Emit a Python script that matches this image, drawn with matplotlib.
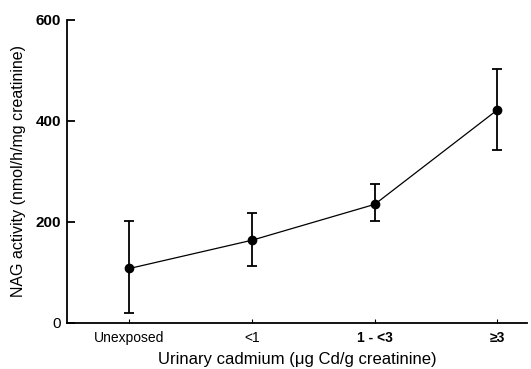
import matplotlib.pyplot as plt
import numpy as np

plt.rcParams['font.family'] = ['Liberation Sans', 'DejaVu Sans']

# data
groups = ["Unexposed", "<1", "1 - <3", "\u22653"]
nag_mean = [107, 163, 234, 421]
nag_low = [19, 111, 201, 342]
nag_high = [201, 216, 274, 503]

x = np.arange(len(groups))
mean = np.array(nag_mean)
yerr = [mean - np.array(nag_low), np.array(nag_high) - mean]

fig = plt.figure(figsize=(5.31, 3.69), dpi=100)
ax = fig.add_axes([0.126, 0.126, 0.866, 0.821])

ax.errorbar(x, mean, yerr=yerr, fmt='-o', color='black', lw=0.9,
            elinewidth=1.3, capsize=3.5, capthick=1.3, markersize=6)

ax.set_xlim(-0.51, 3.24)
ax.set_ylim(0, 600)
ax.set_yticks([0, 200, 400, 600])
ax.set_xticks(x)
ax.set_xticklabels(groups)
for i, lab in enumerate(ax.get_xticklabels()):
    if i >= 2:
        lab.set_fontweight('bold')
for i, lab in enumerate(ax.get_yticklabels()):
    if i > 0:
        lab.set_fontweight('bold')

ax.spines['top'].set_visible(False)
ax.spines['right'].set_visible(False)
ax.spines['left'].set_linewidth(1.3)
ax.spines['bottom'].set_linewidth(1.3)
ax.tick_params(axis='y', direction='in', length=6, width=1.3, labelsize=11, pad=4)
ax.tick_params(axis='x', direction='in', length=3, width=0.8, labelsize=10, pad=6)

ax.set_xlabel("Urinary cadmium (\u03bcg Cd/g creatinine)", fontsize=12, labelpad=5)
ax.set_ylabel("NAG activity (nmol/h/mg creatinine)", fontsize=11.5, labelpad=7)

fig.savefig("out.png", dpi=100)
